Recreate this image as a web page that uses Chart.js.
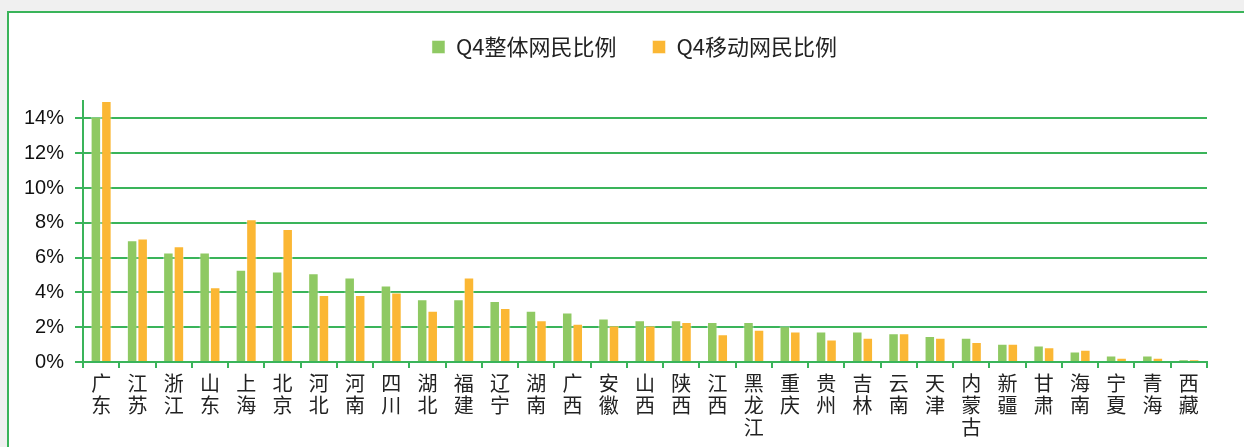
<!DOCTYPE html>
<html>
<head>
<meta charset="utf-8">
<script src="https://cdn.jsdelivr.net/npm/chart.js@4/dist/chart.umd.min.js"></script>
<style>
    html, body { margin: 0; padding: 0; background: #f0f0f0; overflow: hidden; }
    #frame { position: absolute; left: 7px; top: 11px; width: 1300px; height: 500px; border: 2px solid #3ab45a; background: #fff; }
    #chart { position: absolute; left: 0; top: 0; }
</style>
</head>
<body>
<div id="frame"></div>
<canvas id="chart" width="1244" height="447"></canvas>
<script>
const provinces = ['广东', '江苏', '浙江', '山东', '上海', '北京', '河北', '河南', '四川', '湖北', '福建',
    '辽宁', '湖南', '广西', '安徽', '山西', '陕西', '江西', '黑龙江', '重庆', '贵州', '吉林', '云南',
    '天津', '内蒙古', '新疆', '甘肃', '海南', '宁夏', '青海', '西藏'];

// values in percent
const overallShare = [14.1, 7.0, 6.3, 6.3, 5.3, 5.2, 5.1, 4.85, 4.4, 3.6, 3.6, 3.5, 2.95, 2.85, 2.5,
    2.4, 2.4, 2.3, 2.3, 2.05, 1.75, 1.75, 1.65, 1.5, 1.4, 1.05, 0.95, 0.6, 0.37, 0.37, 0.13];
const mobileShare = [15.0, 7.1, 6.65, 4.3, 8.2, 7.65, 3.85, 3.85, 4.0, 2.95, 4.85, 3.1, 2.4, 2.2, 2.1,
    2.1, 2.3, 1.6, 1.85, 1.75, 1.3, 1.4, 1.65, 1.4, 1.15, 1.05, 0.85, 0.7, 0.25, 0.25, 0.13];

const seriesNames = ['Q4整体网民比例', 'Q4移动网民比例'];
const yTicks = [0, 2, 4, 6, 8, 10, 12, 14];

const lineGreen = '#3ab45a';

// legend sits in a fixed band above the plot, nudged to the right like the original
const legendSpot = {
    id: 'legendSpot',
    beforeLayout: function (chart) {
        const lg = chart.legend;
        if (lg && !lg._patched) {
            const fit = lg.fit;
            lg.fit = function () {
                fit.call(this);
                this.height = 101;
            };
            lg._patched = true;
        }
    },
    afterLayout: function (chart) {
        chart.legend.left += 31;
        chart.legend.right += 31;
    }
};

const ctx = document.getElementById('chart').getContext('2d');

var chart = new Chart(ctx, {
    type: 'bar',
    data: {
        labels: provinces.map(function (p) { return p.split(''); }),
        datasets: [{
            label: seriesNames[0],
            data: overallShare,
            backgroundColor: '#8fc963',
            borderColor: 'rgba(255,255,255,0.45)',
            borderWidth: 1
        }, {
            label: seriesNames[1],
            data: mobileShare,
            backgroundColor: '#fbb734',
            borderColor: 'rgba(255,255,255,0.45)',
            borderWidth: 1
        }]
    },
    plugins: [legendSpot],
    options: {
        responsive: false,
        animation: false,
        devicePixelRatio: 1,
        categoryPercentage: 0.58,
        barPercentage: 1.0,
        layout: {
            padding: { left: 0, right: 37, top: 0, bottom: 0 }
        },
        plugins: {
            tooltip: { enabled: false },
            legend: {
                position: 'top',
                labels: {
                    boxWidth: 13,
                    boxHeight: 13,
                    padding: 36,
                    color: '#222',
                    font: { family: '"Noto Sans CJK SC", "Noto Sans", sans-serif', size: 22 }
                }
            }
        },
        scales: {
            x: {
                afterFit: function (scale) { scale.height = 85; },
                border: { color: lineGreen, width: 2 },
                grid: {
                    offset: true,
                    drawOnChartArea: false,
                    drawTicks: true,
                    tickLength: 6,
                    color: lineGreen,
                    lineWidth: 2
                },
                ticks: {
                    autoSkip: false,
                    maxRotation: 0,
                    minRotation: 0,
                    padding: 4,
                    color: '#222',
                    font: { family: '"Noto Sans CJK SC", sans-serif', size: 20, lineHeight: 1.1 }
                }
            },
            y: {
                min: 0,
                max: 15,
                afterFit: function (scale) { scale.width = 83; },
                afterBuildTicks: function (scale) {
                    scale.ticks = yTicks.map(function (v) { return { value: v }; });
                },
                border: { color: lineGreen, width: 2 },
                grid: {
                    color: lineGreen,
                    lineWidth: 2,
                    tickLength: 8
                },
                ticks: {
                    padding: 11,
                    color: '#111',
                    font: { family: '"Liberation Sans", Arial, sans-serif', size: 20 },
                    callback: function (v) { return v + '%'; }
                }
            }
        }
    }
});
</script>
</body>
</html>
